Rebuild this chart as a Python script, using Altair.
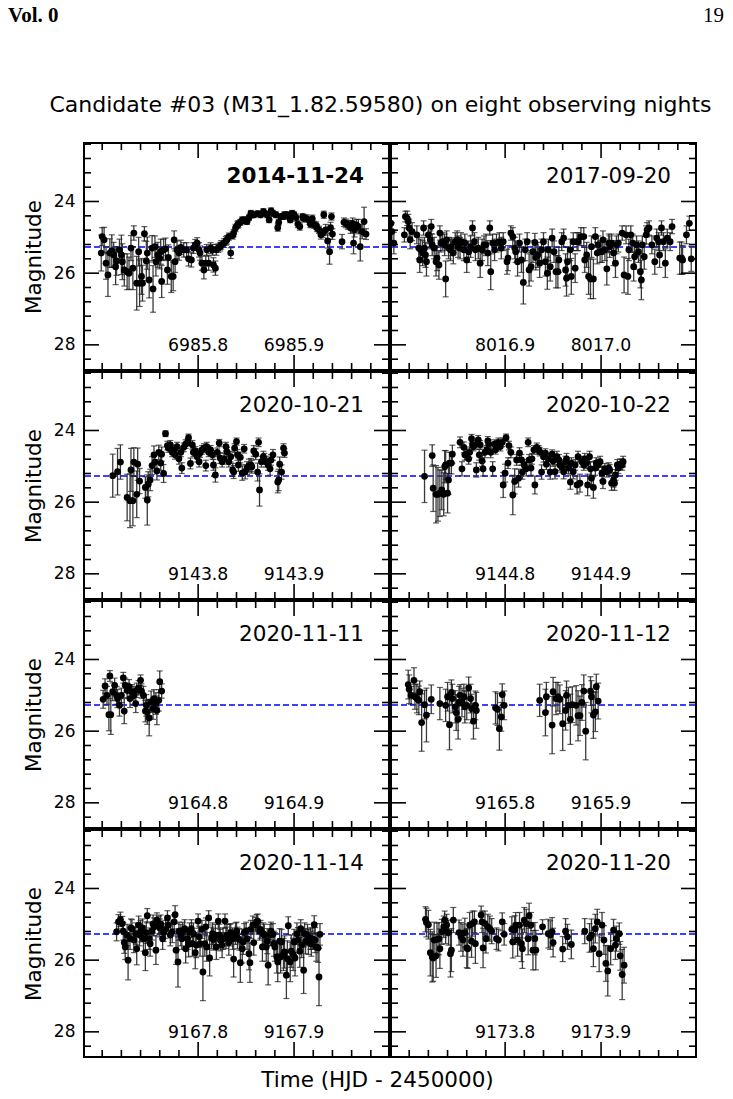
import altair as alt
import pandas as pd

# ---------------- data ----------------
NIGHTS = ["2014-11-24", "2017-09-20", "2020-10-21", "2020-10-22",
          "2020-11-11", "2020-11-12", "2020-11-14", "2020-11-20"]
X_START = [6985.68, 8016.78, 9143.68, 9144.68, 9164.68, 9165.68, 9167.68, 9173.68]
X_SPAN = 0.32
MAJOR_X = [[6985.8, 6985.9], [8016.9, 8017.0], [9143.8, 9143.9], [9144.8, 9144.9],
           [9164.8, 9164.9], [9165.8, 9165.9], [9167.8, 9167.9], [9173.8, 9173.9]]
Y_DOMAIN = [22.34, 28.73]
Y_MAJOR = [24, 26, 28]
Y_MINOR = [22.4, 22.8, 23.2, 23.6, 24.4, 24.8, 25.2, 25.6, 26.4, 26.8, 27.2, 27.6, 28.4]
MEAN_MAG = 25.27

TITLE = "Candidate #03 (M31_1.82.59580) on eight observing nights"
X_TITLE = "Time (HJD - 2450000)"
Y_TITLE = "Magnitude"
HEAD_LEFT = "Vol. 0"
HEAD_RIGHT = "19"

# (time, magnitude, error)
P1 = [(6985.699, 25.44, .50), (6985.700, 24.98, .25), (6985.702, 25.07, .35), (6985.704, 25.72, .45),
      (6985.706, 26.05, .60), (6985.708, 25.44, .40), (6985.710, 25.38, .45), (6985.712, 25.49, .35),
      (6985.714, 25.82, .50), (6985.715, 25.66, .40), (6985.718, 25.35, .30), (6985.720, 25.49, .55),
      (6985.721, 25.68, .50), (6985.723, 25.91, .45), (6985.726, 25.96, .50), (6985.728, 26.00, .45),
      (6985.730, 25.30, .35), (6985.732, 25.86, .60), (6985.733, 24.88, .20), (6985.736, 26.28, .75),
      (6985.738, 25.40, .40), (6985.739, 26.28, .65), (6985.741, 26.09, .50), (6985.742, 26.28, .50),
      (6985.744, 24.90, .20), (6985.746, 25.66, .55), (6985.747, 25.44, .45), (6985.749, 26.19, .50),
      (6985.752, 25.30, .35), (6985.753, 26.44, .65), (6985.755, 25.26, .30), (6985.756, 25.68, .40),
      (6985.758, 25.49, .35), (6985.760, 25.58, .30), (6985.761, 25.40, .35), (6985.762, 26.23, .45),
      (6985.764, 25.35, .30), (6985.766, 25.32, .30), (6985.768, 25.91, .40), (6985.769, 25.56, .35),
      (6985.772, 26.09, .45), (6985.774, 26.09, .40), (6985.775, 25.07, .25), (6985.776, 25.68, .30),
      (6985.778, 25.35, .25), (6985.780, 25.44, .20), (6985.782, 25.28, .20), (6985.785, 25.35, .20),
      (6985.788, 25.35, .20), (6985.790, 25.60, .20), (6985.793, 25.63, .20), (6985.795, 25.30, .15),
      (6985.797, 25.21, .15), (6985.799, 25.16, .15), (6985.801, 25.35, .20), (6985.802, 25.44, .20),
      (6985.804, 25.72, .20), (6985.806, 25.91, .25), (6985.808, 25.72, .20), (6985.809, 25.35, .15),
      (6985.811, 25.72, .20), (6985.813, 25.30, .15), (6985.815, 25.35, .15), (6985.816, 25.77, .20),
      (6985.818, 25.86, .20), (6985.819, 25.35, .15), (6985.821, 25.30, .12), (6985.823, 25.26, .12),
      (6985.824, 25.21, .12), (6985.827, 25.16, .12), (6985.829, 25.10, .12), (6985.830, 25.07, .12),
      (6985.832, 24.98, .10), (6985.834, 25.44, .15), (6985.836, 24.95, .10), (6985.837, 24.88, .10),
      (6985.839, 24.74, .10), (6985.841, 24.65, .10), (6985.842, 24.63, .10), (6985.844, 24.58, .08),
      (6985.846, 24.51, .08), (6985.848, 24.54, .08), (6985.849, 24.51, .08), (6985.851, 24.56, .08),
      (6985.853, 24.45, .08), (6985.855, 24.33, .08), (6985.856, 24.37, .08), (6985.858, 24.37, .08),
      (6985.862, 24.34, .08), (6985.865, 24.37, .08), (6985.868, 24.28, .08), (6985.869, 24.33, .08),
      (6985.872, 24.37, .08), (6985.874, 24.51, .08), (6985.876, 24.26, .08), (6985.878, 24.33, .08),
      (6985.881, 24.37, .08), (6985.883, 24.73, .10), (6985.884, 24.58, .08), (6985.886, 24.42, .08),
      (6985.889, 24.42, .08), (6985.890, 24.37, .08), (6985.893, 24.37, .08), (6985.895, 24.42, .08),
      (6985.896, 24.51, .08), (6985.898, 24.33, .08), (6985.900, 24.37, .08), (6985.902, 24.45, .10),
      (6985.904, 24.63, .10), (6985.906, 24.70, .10), (6985.909, 24.42, .08), (6985.910, 24.47, .10),
      (6985.913, 24.47, .10), (6985.916, 24.54, .10), (6985.917, 24.63, .10), (6985.919, 24.48, .10),
      (6985.921, 24.65, .10), (6985.923, 24.67, .10), (6985.924, 24.74, .10), (6985.926, 24.79, .10),
      (6985.928, 24.93, .12), (6985.930, 24.88, .12), (6985.931, 24.37, .10), (6985.933, 24.79, .15),
      (6985.935, 25.10, .20), (6985.937, 25.40, .35), (6985.938, 24.73, .15), (6985.939, 24.42, .10),
      (6985.940, 24.91, .15), (6985.950, 25.12, .20), (6985.952, 24.58, .12), (6985.954, 24.61, .12),
      (6985.956, 24.65, .12), (6985.957, 24.65, .12), (6985.959, 24.74, .15), (6985.961, 24.61, .15),
      (6985.962, 25.16, .30), (6985.963, 24.79, .20), (6985.965, 24.65, .15), (6985.967, 24.70, .20),
      (6985.969, 25.26, .40), (6985.971, 24.84, .20), (6985.973, 24.56, .40), (6985.975, 24.91, .15)]

P2 = [(8016.781, 24.61, .20), (8016.782, 24.84, .25), (8016.784, 25.16, .30), (8016.795, 24.93, .20),
      (8016.796, 24.42, .15), (8016.798, 24.47, .20), (8016.799, 24.56, .20), (8016.800, 24.74, .25),
      (8016.801, 25.07, .25), (8016.803, 24.84, .25), (8016.808, 24.93, .25), (8016.810, 25.30, .30),
      (8016.811, 25.63, .35), (8016.812, 25.35, .30), (8016.814, 25.44, .35), (8016.815, 24.74, .20),
      (8016.816, 25.30, .30), (8016.817, 25.49, .35), (8016.818, 25.68, .40), (8016.820, 24.93, .25),
      (8016.822, 25.07, .25), (8016.823, 24.70, .20), (8016.824, 25.21, .30), (8016.826, 25.30, .30),
      (8016.828, 25.68, .40), (8016.829, 25.58, .35), (8016.831, 25.77, .40), (8016.832, 24.88, .20),
      (8016.833, 25.16, .25), (8016.835, 25.12, .25), (8016.837, 25.21, .30), (8016.838, 26.16, .50),
      (8016.839, 25.07, .25), (8016.841, 25.30, .30), (8016.843, 25.35, .30), (8016.844, 25.26, .25),
      (8016.846, 25.44, .30), (8016.848, 25.12, .25), (8016.850, 25.07, .25), (8016.851, 25.26, .30),
      (8016.853, 25.30, .30), (8016.854, 25.12, .25), (8016.857, 25.35, .30), (8016.858, 25.16, .25),
      (8016.860, 25.63, .35), (8016.862, 25.40, .30), (8016.864, 25.26, .30), (8016.866, 24.74, .20),
      (8016.868, 25.12, .25), (8016.869, 25.35, .30), (8016.872, 25.30, .30), (8016.874, 25.72, .40),
      (8016.876, 25.35, .30), (8016.878, 25.21, .25), (8016.880, 25.21, .30), (8016.882, 25.44, .35),
      (8016.884, 24.74, .20), (8016.885, 25.96, .50), (8016.887, 25.16, .25), (8016.889, 25.35, .30),
      (8016.891, 25.16, .25), (8016.894, 25.12, .25), (8016.896, 25.30, .30), (8016.898, 25.12, .25),
      (8016.902, 25.68, .35), (8016.903, 25.58, .35), (8016.906, 24.88, .20), (8016.908, 24.98, .25),
      (8016.910, 25.30, .30), (8016.911, 25.40, .30), (8016.913, 25.68, .40), (8016.915, 25.16, .25),
      (8016.917, 25.63, .35), (8016.919, 26.26, .60), (8016.921, 25.35, .30), (8016.923, 25.12, .25),
      (8016.925, 25.91, .45), (8016.927, 25.82, .40), (8016.929, 25.40, .30), (8016.931, 25.14, .25),
      (8016.932, 25.56, .35), (8016.934, 25.49, .35), (8016.936, 25.72, .40), (8016.938, 25.35, .30),
      (8016.940, 25.12, .25), (8016.942, 25.68, .40), (8016.944, 26.00, .45), (8016.945, 25.35, .30),
      (8016.947, 25.82, .40), (8016.949, 25.02, .25), (8016.951, 25.40, .30), (8016.953, 25.96, .45),
      (8016.955, 25.96, .45), (8016.956, 25.63, .35), (8016.959, 25.12, .25), (8016.961, 25.02, .25),
      (8016.963, 25.91, .45), (8016.964, 26.14, .50), (8016.965, 25.68, .40), (8016.968, 25.35, .30),
      (8016.969, 26.09, .50), (8016.971, 25.12, .25), (8016.973, 25.86, .40), (8016.975, 25.12, .25),
      (8016.976, 25.12, .25), (8016.979, 24.98, .25), (8016.982, 24.98, .25), (8016.983, 25.63, .35),
      (8016.985, 25.49, .35), (8016.987, 26.09, .50), (8016.989, 26.16, .55), (8016.990, 25.26, .30),
      (8016.992, 26.16, .55), (8016.994, 24.98, .25), (8016.996, 25.44, .30), (8016.997, 25.21, .25),
      (8016.999, 25.40, .30), (8017.001, 25.40, .30), (8017.002, 25.07, .25), (8017.004, 25.35, .30),
      (8017.006, 25.88, .45), (8017.008, 25.16, .25), (8017.009, 25.26, .30), (8017.011, 25.16, .25),
      (8017.013, 25.44, .35), (8017.015, 25.72, .40), (8017.016, 25.21, .25), (8017.018, 25.16, .25),
      (8017.022, 24.88, .20), (8017.024, 26.05, .50), (8017.026, 24.93, .25), (8017.028, 26.09, .50),
      (8017.029, 25.35, .30), (8017.031, 24.93, .25), (8017.033, 25.16, .25), (8017.034, 25.82, .40),
      (8017.035, 25.54, .35), (8017.037, 25.21, .25), (8017.039, 25.40, .30), (8017.041, 25.96, .45),
      (8017.042, 26.19, .55), (8017.043, 25.21, .25), (8017.045, 25.54, .35), (8017.047, 24.93, .25),
      (8017.048, 24.79, .20), (8017.050, 24.74, .20), (8017.053, 25.21, .25), (8017.056, 25.68, .35),
      (8017.058, 25.02, .25), (8017.060, 25.12, .25), (8017.061, 25.49, .35), (8017.063, 24.74, .20),
      (8017.065, 25.12, .25), (8017.067, 25.72, .40), (8017.069, 25.02, .25), (8017.072, 25.12, .25),
      (8017.074, 24.70, .20), (8017.082, 25.58, .45), (8017.084, 25.58, .45), (8017.085, 25.63, .40),
      (8017.089, 24.93, .25), (8017.092, 24.61, .20), (8017.094, 25.60, .35)]

P3 = [(9143.711, 25.26, .60), (9143.716, 25.15, .65), (9143.719, 24.88, .48), (9143.726, 25.87, .65),
      (9143.729, 25.96, .75), (9143.730, 25.10, .60), (9143.732, 25.96, .70), (9143.733, 24.88, .40),
      (9143.736, 25.78, .65), (9143.737, 24.94, .45), (9143.739, 25.41, .35), (9143.745, 25.59, .30),
      (9143.747, 25.94, .70), (9143.748, 25.50, .35), (9143.750, 25.38, .30), (9143.752, 24.98, .25),
      (9143.754, 24.68, .25), (9143.755, 24.88, .25), (9143.757, 25.13, .25), (9143.759, 24.61, .20),
      (9143.761, 24.91, .20), (9143.762, 24.66, .20), (9143.764, 25.20, .25), (9143.766, 24.09, .08),
      (9143.768, 24.42, .12), (9143.769, 24.49, .12), (9143.771, 24.40, .12), (9143.773, 24.61, .12),
      (9143.775, 24.54, .12), (9143.776, 24.68, .12), (9143.778, 24.45, .12), (9143.780, 24.79, .15),
      (9143.782, 24.61, .12), (9143.783, 25.05, .15), (9143.785, 24.47, .12), (9143.787, 24.38, .12),
      (9143.789, 24.33, .10), (9143.790, 24.20, .10), (9143.792, 24.92, .15), (9143.794, 24.40, .12),
      (9143.795, 24.61, .12), (9143.797, 24.57, .12), (9143.799, 24.73, .15), (9143.801, 24.87, .15),
      (9143.802, 24.63, .12), (9143.804, 24.54, .12), (9143.806, 24.49, .12), (9143.808, 24.98, .15),
      (9143.809, 24.45, .12), (9143.811, 24.61, .12), (9143.813, 24.54, .12), (9143.815, 24.68, .12),
      (9143.816, 24.96, .15), (9143.818, 25.24, .20), (9143.820, 24.61, .12), (9143.822, 24.35, .10),
      (9143.823, 24.77, .15), (9143.825, 24.87, .15), (9143.827, 24.79, .15), (9143.829, 24.45, .12),
      (9143.830, 24.59, .12), (9143.832, 24.87, .15), (9143.834, 24.73, .15), (9143.836, 25.10, .18),
      (9143.837, 25.16, .18), (9143.838, 24.49, .12), (9143.840, 24.31, .10), (9143.841, 24.68, .15),
      (9143.842, 24.96, .18), (9143.844, 24.75, .15), (9143.846, 25.19, .20), (9143.848, 24.51, .12),
      (9143.849, 25.15, .20), (9143.851, 25.05, .18), (9143.853, 24.98, .18), (9143.855, 24.96, .18),
      (9143.856, 25.01, .18), (9143.858, 24.57, .15), (9143.860, 24.66, .15), (9143.862, 25.16, .25),
      (9143.863, 24.33, .12), (9143.864, 25.66, .45), (9143.866, 24.87, .15), (9143.868, 24.73, .15),
      (9143.869, 24.79, .15), (9143.871, 24.87, .15), (9143.873, 24.96, .15), (9143.875, 25.07, .18),
      (9143.876, 24.82, .15), (9143.878, 24.68, .15), (9143.883, 25.44, .30), (9143.884, 25.38, .30),
      (9143.885, 24.94, .20), (9143.887, 25.16, .20), (9143.889, 24.49, .12), (9143.890, 24.63, .12)]

P4 = [(9144.716, 25.28, .73), (9144.724, 24.70, .30), (9144.725, 25.61, .65), (9144.728, 25.78, .80),
      (9144.730, 25.78, .75), (9144.732, 25.75, .65), (9144.734, 25.66, .55), (9144.736, 25.78, .60),
      (9144.737, 25.01, .45), (9144.738, 24.96, .40), (9144.740, 25.75, .55), (9144.741, 25.38, .40),
      (9144.742, 24.91, .30), (9144.744, 24.91, .30), (9144.745, 24.66, .25), (9144.753, 24.33, .15),
      (9144.755, 25.07, .20), (9144.757, 24.47, .15), (9144.758, 24.68, .15), (9144.760, 24.66, .15),
      (9144.762, 24.79, .15), (9144.763, 24.61, .15), (9144.765, 24.23, .12), (9144.766, 24.40, .12),
      (9144.767, 24.45, .12), (9144.769, 24.40, .12), (9144.770, 25.10, .20), (9144.772, 24.26, .12),
      (9144.773, 24.68, .15), (9144.774, 24.40, .12), (9144.776, 24.85, .15), (9144.777, 25.07, .20),
      (9144.779, 24.61, .15), (9144.781, 24.54, .12), (9144.782, 24.29, .12), (9144.783, 24.38, .12),
      (9144.785, 24.61, .15), (9144.787, 25.07, .20), (9144.789, 24.38, .12), (9144.790, 24.54, .12),
      (9144.792, 24.40, .12), (9144.793, 24.33, .12), (9144.795, 24.45, .12), (9144.797, 24.33, .12),
      (9144.798, 25.52, .35), (9144.800, 25.19, .25), (9144.801, 24.20, .10), (9144.803, 24.91, .15),
      (9144.804, 24.42, .12), (9144.806, 24.61, .15), (9144.808, 25.80, .55), (9144.810, 25.42, .35),
      (9144.812, 24.82, .15), (9144.814, 25.33, .25), (9144.815, 24.63, .15), (9144.817, 24.82, .15),
      (9144.818, 25.16, .20), (9144.820, 24.96, .15), (9144.822, 25.07, .20), (9144.824, 24.33, .12),
      (9144.825, 24.82, .15), (9144.827, 25.05, .20), (9144.828, 24.79, .15), (9144.830, 24.54, .12),
      (9144.831, 25.52, .25), (9144.833, 24.47, .12), (9144.835, 24.54, .12), (9144.836, 24.59, .12),
      (9144.838, 25.16, .20), (9144.840, 24.73, .15), (9144.842, 24.63, .12), (9144.843, 24.94, .15),
      (9144.845, 24.79, .15), (9144.847, 25.16, .20), (9144.849, 24.66, .12), (9144.850, 24.85, .15),
      (9144.852, 25.15, .20), (9144.854, 24.73, .15), (9144.856, 24.82, .15), (9144.857, 24.96, .15),
      (9144.859, 25.01, .15), (9144.861, 25.15, .20), (9144.863, 24.87, .15), (9144.864, 24.79, .15),
      (9144.866, 25.05, .15), (9144.868, 25.44, .20), (9144.869, 24.91, .15), (9144.871, 25.15, .20),
      (9144.873, 24.96, .15), (9144.875, 25.52, .25), (9144.876, 24.73, .15), (9144.878, 25.47, .25),
      (9144.880, 24.87, .15), (9144.882, 24.96, .15), (9144.883, 24.79, .15), (9144.885, 24.91, .15),
      (9144.886, 25.52, .30), (9144.888, 24.73, .15), (9144.889, 25.07, .20), (9144.890, 25.33, .25),
      (9144.892, 25.59, .30), (9144.894, 25.05, .20), (9144.895, 24.91, .15), (9144.897, 24.96, .15),
      (9144.899, 24.87, .15), (9144.901, 25.19, .20), (9144.902, 25.42, .20), (9144.904, 25.07, .15),
      (9144.906, 25.15, .15), (9144.908, 25.05, .15), (9144.909, 25.10, .15), (9144.911, 25.47, .20),
      (9144.913, 25.38, .20), (9144.914, 25.47, .20), (9144.915, 25.24, .15), (9144.917, 24.96, .15),
      (9144.918, 25.05, .15), (9144.920, 24.94, .15), (9144.922, 24.96, .15), (9144.923, 24.87, .15)]

P5 = [(9164.701, 25.11, .25), (9164.703, 24.74, .20), (9164.705, 25.00, .25), (9164.707, 25.54, .45),
      (9164.708, 24.46, .15), (9164.709, 25.54, .55), (9164.711, 24.90, .25), (9164.713, 24.72, .20),
      (9164.715, 25.00, .25), (9164.716, 25.09, .25), (9164.718, 25.28, .30), (9164.720, 25.00, .20),
      (9164.722, 24.51, .15), (9164.723, 25.44, .35), (9164.724, 24.72, .20), (9164.726, 24.86, .20),
      (9164.728, 24.76, .20), (9164.729, 25.09, .25), (9164.731, 24.90, .20), (9164.733, 25.00, .25),
      (9164.735, 25.23, .25), (9164.736, 24.86, .20), (9164.738, 24.79, .20), (9164.740, 24.58, .15),
      (9164.741, 24.88, .20), (9164.743, 25.00, .25), (9164.745, 25.44, .30), (9164.746, 25.28, .30),
      (9164.747, 25.46, .35), (9164.749, 25.63, .50), (9164.751, 25.18, .30), (9164.753, 25.37, .30),
      (9164.754, 25.09, .25), (9164.756, 25.23, .30), (9164.757, 25.42, .40), (9164.759, 25.14, .30),
      (9164.760, 24.62, .30), (9164.762, 24.88, .20)]

P6 = [(9165.699, 24.70, .40), (9165.700, 24.83, .40), (9165.702, 25.00, .25), (9165.705, 24.58, .35),
      (9165.706, 25.04, .35), (9165.708, 25.09, .40), (9165.710, 25.14, .40), (9165.711, 24.90, .30),
      (9165.713, 25.76, .80), (9165.716, 25.26, .40), (9165.718, 25.55, .75), (9165.723, 25.11, .40),
      (9165.732, 25.23, .45), (9165.738, 25.28, .45), (9165.740, 25.04, .40), (9165.742, 25.82, .70),
      (9165.744, 24.92, .35), (9165.745, 25.09, .40), (9165.748, 25.32, .45), (9165.749, 25.48, .50),
      (9165.751, 25.67, .55), (9165.752, 25.20, .45), (9165.753, 25.00, .30), (9165.755, 25.20, .40),
      (9165.757, 25.04, .35), (9165.758, 25.32, .45), (9165.760, 25.28, .40), (9165.762, 24.79, .30),
      (9165.764, 25.09, .40), (9165.765, 25.37, .40), (9165.767, 25.72, .50), (9165.769, 25.28, .40),
      (9165.770, 25.42, .50), (9165.790, 25.35, .45), (9165.792, 25.39, .45), (9165.794, 25.93, .60),
      (9165.796, 25.60, .40), (9165.797, 24.98, .30), (9165.799, 25.28, .40), (9165.836, 25.14, .45),
      (9165.842, 25.48, .65), (9165.843, 25.04, .40), (9165.849, 25.83, .80), (9165.850, 24.90, .40),
      (9165.853, 25.09, .45), (9165.855, 25.04, .40), (9165.857, 25.11, .40), (9165.860, 25.79, .75),
      (9165.863, 25.42, .55), (9165.864, 25.00, .40), (9165.866, 25.28, .50), (9165.868, 25.67, .70),
      (9165.870, 25.26, .50), (9165.874, 25.28, .55), (9165.876, 25.57, .70), (9165.878, 25.57, .55),
      (9165.880, 25.20, .50), (9165.882, 24.88, .45), (9165.884, 26.00, .80), (9165.889, 24.88, .40),
      (9165.890, 25.04, .45), (9165.892, 25.55, .65), (9165.894, 25.46, .55), (9165.895, 24.76, .35),
      (9165.897, 25.16, .50)]

P7 = [(9167.715, 25.21, .25), (9167.717, 24.93, .20), (9167.719, 24.86, .20), (9167.721, 24.98, .20),
      (9167.722, 25.19, .25), (9167.723, 25.51, .30), (9167.724, 25.63, .35), (9167.726, 25.30, .30),
      (9167.727, 26.00, .55), (9167.729, 25.40, .30), (9167.730, 25.10, .25), (9167.731, 25.12, .25),
      (9167.733, 25.44, .35), (9167.735, 25.26, .30), (9167.736, 25.68, .45), (9167.738, 25.02, .25),
      (9167.739, 25.30, .30), (9167.740, 25.19, .30), (9167.742, 25.10, .25), (9167.743, 25.40, .35),
      (9167.745, 25.79, .50), (9167.746, 25.23, .30), (9167.747, 24.76, .20), (9167.749, 25.40, .30),
      (9167.750, 25.54, .35), (9167.752, 25.19, .25), (9167.753, 24.99, .25), (9167.754, 25.07, .25),
      (9167.756, 25.72, .40), (9167.757, 24.88, .20), (9167.759, 25.02, .25), (9167.760, 25.10, .25),
      (9167.761, 24.99, .25), (9167.763, 25.40, .30), (9167.764, 25.23, .25), (9167.766, 25.14, .25),
      (9167.768, 24.82, .20), (9167.769, 25.02, .25), (9167.771, 25.30, .30), (9167.773, 25.21, .30),
      (9167.775, 24.93, .20), (9167.776, 24.73, .25), (9167.777, 25.72, .40), (9167.779, 26.05, .70),
      (9167.780, 25.19, .25), (9167.782, 25.30, .30), (9167.783, 25.40, .30), (9167.784, 25.19, .25),
      (9167.786, 25.12, .25), (9167.787, 25.68, .40), (9167.789, 25.40, .30), (9167.790, 25.56, .35),
      (9167.791, 25.21, .25), (9167.793, 25.12, .25), (9167.794, 25.54, .35), (9167.795, 25.26, .30),
      (9167.797, 25.79, .45), (9167.798, 25.58, .35), (9167.800, 24.91, .20), (9167.801, 25.35, .30),
      (9167.802, 25.54, .35), (9167.804, 25.14, .25), (9167.805, 26.33, .80), (9167.807, 25.54, .35),
      (9167.808, 25.07, .25), (9167.809, 25.63, .40), (9167.811, 24.82, .20), (9167.812, 25.94, .50),
      (9167.814, 25.38, .30), (9167.815, 25.26, .30), (9167.816, 25.42, .30), (9167.818, 25.30, .30),
      (9167.819, 25.63, .35), (9167.821, 24.91, .20), (9167.822, 25.30, .30), (9167.823, 25.44, .30),
      (9167.825, 25.58, .35), (9167.826, 25.40, .30), (9167.828, 24.91, .20), (9167.829, 25.38, .30),
      (9167.830, 25.30, .30), (9167.832, 25.51, .35), (9167.833, 25.30, .30), (9167.834, 25.23, .25),
      (9167.836, 25.40, .30), (9167.837, 25.97, .50), (9167.839, 25.26, .30), (9167.840, 25.19, .25),
      (9167.841, 25.38, .30), (9167.843, 25.42, .30), (9167.844, 26.07, .55), (9167.846, 25.68, .40),
      (9167.847, 25.49, .35), (9167.848, 25.23, .25), (9167.850, 25.19, .25), (9167.851, 25.40, .30),
      (9167.853, 25.82, .45), (9167.854, 26.07, .55), (9167.855, 25.14, .25), (9167.857, 25.02, .25),
      (9167.858, 25.51, .35), (9167.860, 25.01, .20), (9167.861, 24.93, .20), (9167.862, 24.91, .20),
      (9167.864, 25.19, .25), (9167.865, 25.14, .25), (9167.867, 25.63, .40), (9167.868, 25.26, .30),
      (9167.869, 25.30, .30), (9167.871, 25.63, .40), (9167.872, 25.47, .35), (9167.873, 26.14, .55),
      (9167.875, 25.30, .30), (9167.876, 25.19, .25), (9167.878, 25.28, .30), (9167.879, 25.54, .35),
      (9167.880, 25.63, .40), (9167.882, 25.91, .45), (9167.883, 26.05, .55), (9167.885, 25.47, .35),
      (9167.886, 25.91, .45), (9167.887, 25.49, .35), (9167.889, 25.84, .45), (9167.890, 25.77, .45),
      (9167.892, 26.42, .65), (9167.893, 25.96, .50), (9167.894, 25.04, .25), (9167.896, 26.05, .55),
      (9167.897, 25.75, .45), (9167.899, 25.84, .45), (9167.900, 25.49, .35), (9167.901, 25.94, .50),
      (9167.903, 25.26, .30), (9167.904, 25.44, .35), (9167.906, 25.75, .45), (9167.907, 25.12, .25),
      (9167.908, 25.58, .35), (9167.910, 26.28, .65), (9167.911, 25.26, .30), (9167.912, 25.47, .35),
      (9167.914, 25.30, .30), (9167.915, 25.49, .35), (9167.917, 25.40, .30), (9167.918, 25.54, .35),
      (9167.919, 25.40, .30), (9167.921, 25.01, .25), (9167.922, 25.44, .35), (9167.923, 25.63, .40),
      (9167.925, 25.66, .40), (9167.926, 26.47, .80), (9167.927, 25.28, .30)]

P8 = [(9173.717, 24.86, .35), (9173.718, 24.95, .40), (9173.720, 25.01, .40), (9173.722, 25.79, .65),
      (9173.724, 25.91, .70), (9173.725, 25.94, .65), (9173.726, 25.44, .50), (9173.728, 25.88, .60),
      (9173.729, 25.42, .45), (9173.731, 25.40, .45), (9173.732, 25.68, .55), (9173.734, 25.21, .35),
      (9173.736, 25.07, .30), (9173.737, 24.88, .25), (9173.738, 25.19, .35), (9173.739, 25.02, .30),
      (9173.741, 25.23, .35), (9173.743, 25.82, .65), (9173.744, 25.72, .60), (9173.746, 24.88, .35),
      (9173.752, 25.23, .35), (9173.754, 25.35, .40), (9173.756, 25.44, .45), (9173.758, 25.23, .40),
      (9173.760, 25.66, .55), (9173.761, 25.68, .55), (9173.763, 25.02, .35), (9173.765, 25.47, .45),
      (9173.766, 24.98, .35), (9173.768, 24.93, .30), (9173.769, 25.54, .55), (9173.775, 24.74, .25),
      (9173.776, 24.93, .30), (9173.777, 25.66, .55), (9173.779, 24.98, .35), (9173.780, 25.40, .40),
      (9173.782, 25.07, .35), (9173.784, 25.12, .35), (9173.786, 25.19, .35), (9173.791, 25.40, .30),
      (9173.793, 25.44, .30), (9173.797, 24.93, .25), (9173.799, 25.28, .30), (9173.807, 25.14, .35),
      (9173.808, 25.49, .45), (9173.810, 25.16, .40), (9173.811, 25.02, .35), (9173.813, 25.44, .45),
      (9173.815, 25.02, .35), (9173.817, 25.54, .50), (9173.818, 25.68, .55), (9173.820, 24.88, .35),
      (9173.822, 24.98, .40), (9173.824, 25.40, .45), (9173.825, 24.76, .35), (9173.827, 25.02, .35),
      (9173.829, 25.72, .55), (9173.831, 25.40, .45), (9173.832, 25.72, .55), (9173.839, 25.07, .20),
      (9173.845, 25.26, .40), (9173.847, 25.30, .40), (9173.849, 25.21, .40), (9173.850, 25.51, .40),
      (9173.860, 25.69, .35), (9173.863, 25.19, .35), (9173.865, 25.35, .35), (9173.869, 25.56, .40),
      (9173.883, 25.19, .35), (9173.888, 25.38, .40), (9173.890, 25.30, .45), (9173.892, 25.68, .50),
      (9173.894, 25.12, .40), (9173.896, 24.93, .35), (9173.898, 25.82, .50), (9173.901, 25.02, .35),
      (9173.903, 25.44, .40), (9173.905, 26.09, .50), (9173.907, 26.30, .70), (9173.910, 25.68, .45),
      (9173.913, 25.16, .30), (9173.915, 25.58, .40), (9173.916, 25.40, .35), (9173.919, 25.26, .30),
      (9173.920, 25.88, .40), (9173.922, 26.40, .70), (9173.924, 26.14, .50)]

PANELS = [P1, P2, P3, P4, P5, P6, P7, P8]

# ---------------- layout / style ----------------
W, H = 307, 229
TL_MAJ, TL_MIN = 16, 8
TW = 1.6
BW = 2
FONT = "DejaVu Sans"


def minor_x(i):
    vals = []
    for k in range(1, 16):
        v = round(X_START[i] + 0.02 * k, 3)
        if all(abs(v - m) > 1e-6 for m in MAJOR_X[i]):
            vals.append(v)
    return vals


def panel(i, left):
    d = pd.DataFrame(PANELS[i], columns=["t", "m", "e"])
    d["lo"] = d["m"] - d["e"]
    d["hi"] = d["m"] + d["e"]
    xs = alt.Scale(domain=[X_START[i], round(X_START[i] + X_SPAN, 3)], nice=False, zero=False)
    ys = alt.Scale(domain=Y_DOMAIN, reverse=True, nice=False, zero=False)
    if left:
        yax = alt.Axis(values=Y_MAJOR, ticks=False, domain=False, grid=False,
                       labelFontSize=17, labelPadding=8, labelColor="black", labelFont=FONT,
                       title=Y_TITLE, titleFontSize=21.5, titleFont=FONT,
                       titleFontWeight="normal", titleColor="black", titlePadding=8)
    else:
        yax = None

    def X(f):
        return alt.X(f, type="quantitative", scale=xs, axis=None)

    def Y(f):
        if yax is None:
            return alt.Y(f, type="quantitative", scale=ys, axis=None)
        return alt.Y(f, type="quantitative", scale=ys, axis=yax)

    base = alt.Chart(d)
    err = base.mark_rule(color="#3a3a3a", strokeWidth=1.3, clip=True).encode(
        x=X("t"), y=Y("lo"), y2=alt.Y2("hi"))
    cap_lo = base.mark_tick(orient="horizontal", size=6, thickness=1.2, color="#1a1a1a", clip=True).encode(
        x=X("t"), y=Y("lo"))
    cap_hi = base.mark_tick(orient="horizontal", size=6, thickness=1.2, color="#1a1a1a", clip=True).encode(
        x=X("t"), y=Y("hi"))
    pts = base.mark_circle(size=46, color="black", opacity=1, clip=True).encode(x=X("t"), y=Y("m"))

    mean = alt.Chart(pd.DataFrame({"level": [MEAN_MAG]})).mark_rule(
        color="blue", strokeDash=[6, 3], strokeWidth=1.5).encode(
        y=Y("level"), x=alt.value(2), x2=alt.value(W - 2))

    xmaj = alt.Chart(pd.DataFrame({"v": MAJOR_X[i]}))
    xmin = alt.Chart(pd.DataFrame({"v": minor_x(i)}))
    ymaj = alt.Chart(pd.DataFrame({"v": Y_MAJOR}))
    ymin = alt.Chart(pd.DataFrame({"v": Y_MINOR}))

    def xt(src, y0, y1):
        return src.mark_rect(color="black", xOffset=-TW / 2, x2Offset=TW / 2).encode(
            x=X("v"), x2=alt.X2("v"), y=alt.value(y0), y2=alt.value(y1))

    def yt(src, x0, x1):
        return src.mark_rect(color="black", yOffset=-TW / 2, y2Offset=TW / 2).encode(
            y=Y("v"), y2=alt.Y2("v"), x=alt.value(x0), x2=alt.value(x1))

    ticks = [
        xt(xmaj, 0, TL_MAJ), xt(xmaj, H - TL_MAJ, H),
        xt(xmin, 0, TL_MIN), xt(xmin, H - TL_MIN, H),
        yt(ymaj, 0, TL_MAJ), yt(ymaj, W - TL_MAJ, W),
        yt(ymin, 0, TL_MIN), yt(ymin, W - TL_MIN, W),
    ]

    one = alt.Chart(pd.DataFrame({"k": [0]}))
    frame = [
        one.mark_rect(color="black").encode(x=alt.value(0), x2=alt.value(BW), y=alt.value(0), y2=alt.value(H)),
        one.mark_rect(color="black").encode(x=alt.value(W - BW), x2=alt.value(W), y=alt.value(0), y2=alt.value(H)),
        one.mark_rect(color="black").encode(x=alt.value(0), x2=alt.value(W), y=alt.value(0), y2=alt.value(BW)),
        one.mark_rect(color="black").encode(x=alt.value(0), x2=alt.value(W), y=alt.value(H - BW), y2=alt.value(H)),
    ]

    date = alt.Chart(pd.DataFrame({"label": [NIGHTS[i]]})).mark_text(
        align="right", baseline="alphabetic", fontSize=21.5, font=FONT,
        fontWeight="bold" if i == 0 else "normal", color="black").encode(
        x=alt.value(W - 26), y=alt.value(41), text="label:N")

    xlab = xmaj.mark_text(align="center", baseline="alphabetic", fontSize=17.3,
                          font=FONT, color="black").encode(
        x=X("v"), y=alt.value(H - 20), text=alt.Text("v:Q", format=".1f"))

    return alt.layer(mean, err, cap_lo, cap_hi, pts, *ticks, *frame, date, xlab).properties(
        width=W, height=H)


rows = [alt.hconcat(panel(2 * r, True), panel(2 * r + 1, False), spacing=0) for r in range(4)]

head_df = pd.DataFrame({"s": [HEAD_LEFT]})
page_df = pd.DataFrame({"s": [HEAD_RIGHT]})
title_df = pd.DataFrame({"s": [TITLE]})
header = alt.layer(
    alt.Chart(head_df).mark_text(align="left", baseline="alphabetic", font="Liberation Serif",
                                 fontWeight="bold", fontSize=21, color="black").encode(
        x=alt.value(-75), y=alt.value(17), text="s:N"),
    alt.Chart(page_df).mark_text(align="right", baseline="alphabetic", font="Liberation Serif",
                                 fontSize=21, color="black").encode(
        x=alt.value(641), y=alt.value(17), text="s:N"),
    alt.Chart(title_df).mark_text(align="center", baseline="alphabetic", font=FONT,
                                  fontSize=22, color="black").encode(
        x=alt.value(297.5), y=alt.value(107), text="s:N"),
).properties(width=2 * W, height=137)

footer = alt.Chart(pd.DataFrame({"s": [X_TITLE]})).mark_text(
    align="center", baseline="alphabetic", font=FONT, fontSize=21.5, color="black").encode(
    x=alt.value(294.5), y=alt.value(29), text="s:N").properties(width=2 * W, height=34)

chart = alt.vconcat(header, *rows, footer, spacing=0).properties(
    padding={"left": 8, "top": 5, "right": 0, "bottom": 0},
    background="white",
).configure_view(strokeWidth=0, strokeOpacity=0)

chart.save("out.html", embed_options={"renderer": "svg", "actions": False})
